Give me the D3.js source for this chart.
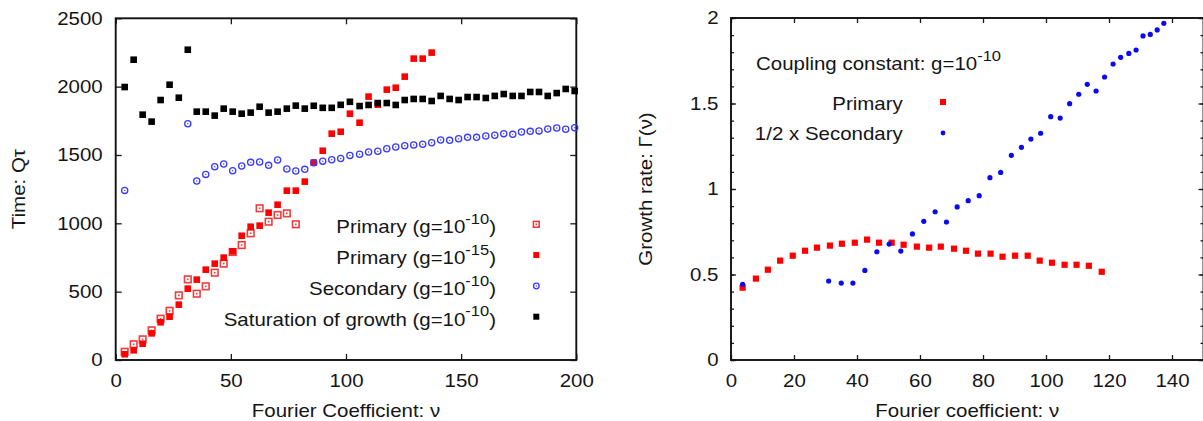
<!DOCTYPE html>
<html>
<head>
<meta charset="utf-8">
<script src="https://cdn.jsdelivr.net/npm/d3@7"></script>
<style>
  html, body { margin: 0; padding: 0; background: #fff; }
  svg { display: block; }
  text { font-family: "Liberation Sans", Arial, Helvetica, sans-serif; fill: #151515; }
</style>
</head>
<body>
<svg id="chart" width="1203" height="421"></svg>
<script>
// ---------- Left panel: time scales versus Fourier coefficient ν ----------
const nuLeft = [3.9, 7.8, 11.7, 15.6, 19.5, 23.4, 27.4, 31.3, 35.2, 39.1, 43.0, 46.9, 50.8,
  54.7, 58.6, 62.5, 66.4, 70.3, 74.3, 78.2, 82.1, 86.0, 89.9, 93.8, 97.7, 101.7, 105.9,
  109.8, 113.8, 117.7, 121.6, 125.5, 129.4, 133.3, 137.2, 141.1, 145.0, 148.9, 152.8,
  156.7, 160.7, 164.6, 168.5, 172.4, 176.2, 180.0, 183.8, 187.6, 191.5, 195.4, 199.3];

// Primary instability, g = 1e-10 (open squares)
const primaryG10 = [60, 115, 151, 217, 302, 360, 473, 590, 485, 539, 639, 705, 790,
  841, 927, 1110, 1012, 1061, 1073, 993];

// Primary instability, g = 1e-15 (filled squares)
const primaryG15 = [42, 71, 119, 195, 276, 317, 405, 522, 588, 661, 705, 749, 795,
  909, 975, 983, 1078, 1136, 1239, 1239, 1305, 1444, 1531, 1656, 1670, 1802, 1736,
  1927, 1868, 1978, 1992, 2073, 2205, 2205, 2249];

// Secondary instability, g = 1e-10 (open circles); null = no value
const secondaryG10 = [1241, null, null, null, null, null, null, 1729, 1310, 1358, 1414,
  1434, 1385, 1419, 1446, 1449, 1424, 1463, 1397, 1383, 1395, 1444, 1455, 1465, 1474,
  1497, 1505, 1522, 1527, 1546, 1558, 1568, 1573, 1578, 1590, 1610, 1607, 1619, 1629,
  1629, 1639, 1644, 1656, 1651, 1668, 1673, 1676, 1690, 1697, 1688, 1700];

// Saturation of growth, g = 1e-10 (black squares)
const saturationG10 = [1997, 2197, 1795, 1744, 1902, 2014, 1919, 2270, 1817, 1817, 1788,
  1839, 1817, 1802, 1810, 1853, 1810, 1817, 1839, 1861, 1839, 1860, 1845, 1845, 1867,
  1889, 1858, 1866, 1880, 1880, 1866, 1902, 1910, 1910, 1895, 1932, 1910, 1902, 1924,
  1924, 1917, 1932, 1946, 1932, 1932, 1961, 1961, 1932, 1953, 1983, 1968];

const leftXTicks = [0, 50, 100, 150, 200];
const leftYTicks = [0, 500, 1000, 1500, 2000, 2500];

// ---------- Right panel: growth rate Γ(ν) ----------
const nuRightPrimary = [3.7, 7.9, 11.7, 15.6, 19.6, 23.5, 27.3, 31.4, 35.2, 39.3, 43.2,
  47.0, 51.0, 54.8, 59.0, 62.9, 66.6, 70.8, 74.6, 78.4, 82.4, 86.2, 90.2, 94.2, 98.0,
  101.9, 105.9, 109.7, 113.6, 117.7];
const gammaPrimary = [0.423, 0.476, 0.528, 0.581, 0.610, 0.639, 0.657, 0.669, 0.680,
  0.686, 0.704, 0.686, 0.686, 0.674, 0.663, 0.657, 0.663, 0.651, 0.639, 0.622, 0.622,
  0.604, 0.610, 0.610, 0.581, 0.569, 0.557, 0.557, 0.551, 0.516];

const nuRightSecondary = [3.7, 31.0, 35.0, 38.7, 42.5, 46.3, 50.2, 53.9, 57.6, 61.2, 64.8,
  68.4, 71.8, 75.3, 78.8, 82.2, 85.6, 89.0, 92.2, 95.2, 98.3, 101.5, 104.5, 107.5, 110.4,
  113.1, 115.9, 118.6, 121.3, 123.7, 126.3, 128.6, 130.8, 133.1, 135.3, 137.4];
const gammaHalfSecondary = [0.443, 0.462, 0.450, 0.450, 0.524, 0.633, 0.678, 0.637, 0.737,
  0.811, 0.867, 0.807, 0.895, 0.932, 0.961, 1.066, 1.097, 1.197, 1.244, 1.292, 1.326,
  1.423, 1.415, 1.499, 1.554, 1.612, 1.573, 1.655, 1.731, 1.770, 1.793, 1.813, 1.895,
  1.904, 1.930, 1.969];

const rightXTicks = [0, 20, 40, 60, 80, 100, 120, 140];
const rightYTicks = [0, 0.5, 1, 1.5, 2];
const rightYMinorTicks = d3.range(0, 21).map(i => i / 10);

// ---------- drawing ----------
const svg = d3.select("#chart");
svg.append("rect").attr("width", 1203).attr("height", 421).attr("fill", "#fff");

const FS = 18.6;      // base font size
const SX = 1.1;       // horizontal stretch of the lettering
const SUP_FS = 15;    // exponent size
const SUP_DY = 9.5;   // exponent raise

// text with optional superscript pieces: segs = [[string, isSup], ...]
function addText(g, x, y, segs, anchor, rotate) {
  const t = g.append("text")
    .attr("transform", `translate(${x},${y})` + (rotate ? ` rotate(${rotate})` : "") + ` scale(${SX},1)`)
    .attr("text-anchor", anchor)
    .style("font-size", FS + "px");
  let raised = false;
  segs.forEach(([s, sup]) => {
    const ts = t.append("tspan").text(s);
    if (sup && !raised) { ts.attr("dy", -SUP_DY).style("font-size", SUP_FS + "px"); raised = true; }
    else if (sup) { ts.style("font-size", SUP_FS + "px"); }
    else if (!sup && raised) { ts.attr("dy", SUP_DY); raised = false; }
  });
  return t;
}

function styleAxis(g, showLabels) {
  g.select(".domain").remove();
  g.selectAll(".tick line").attr("stroke", "#1a1a1a").attr("stroke-width", 1.3);
  if (!showLabels) g.selectAll(".tick text").remove();
  else g.selectAll(".tick text").style("font-size", FS + "px").attr("fill", "#151515")
    .style("font-family", '"Liberation Sans", Arial, sans-serif');
}

function stretchLabels(g) {
  g.selectAll(".tick text").each(function () {
    const el = d3.select(this);
    const x = +el.attr("x") || 0;
    el.attr("x", x / SX).attr("transform", `scale(${SX},1)`);
  });
}

// ===== Left panel =====
const L = { left: 115.7, right: 576.3, top: 18.3, bottom: 360 };
const xL = d3.scaleLinear().domain([0, 200]).range([L.left, L.right]);
const yL = d3.scaleLinear().domain([0, 2500]).range([L.bottom, L.top]);
const gL = svg.append("g");

{
  const ax = gL.append("g").attr("transform", `translate(0,${L.bottom})`)
    .call(d3.axisBottom(xL).tickValues(leftXTicks).tickSize(-6).tickSizeOuter(0).tickPadding(13.5).tickFormat(d => d));
  styleAxis(ax, true); stretchLabels(ax);
  const at = gL.append("g").attr("transform", `translate(0,${L.top})`)
    .call(d3.axisTop(xL).tickValues(leftXTicks).tickSize(-6).tickSizeOuter(0));
  styleAxis(at, false);
  const ay = gL.append("g").attr("transform", `translate(${L.left},0)`)
    .call(d3.axisLeft(yL).tickValues(leftYTicks).tickSize(-6).tickSizeOuter(0).tickPadding(13).tickFormat(d => d));
  styleAxis(ay, true); stretchLabels(ay);
  const ar = gL.append("g").attr("transform", `translate(${L.right},0)`)
    .call(d3.axisRight(yL).tickValues(leftYTicks).tickSize(-6).tickSizeOuter(0));
  styleAxis(ar, false);
  gL.append("rect").attr("x", L.left).attr("y", L.top)
    .attr("width", L.right - L.left).attr("height", L.bottom - L.top)
    .attr("fill", "none").attr("stroke", "#111").attr("stroke-width", 1.9);
}

// marker helpers
function openSquare(g, cx, cy, s) {
  g.append("rect").attr("x", cx - s / 2).attr("y", cy - s / 2).attr("width", s).attr("height", s)
    .attr("fill", "#fff").attr("fill-opacity", 0.6).attr("stroke", "#f03c3c").attr("stroke-width", 1.6);
  g.append("rect").attr("x", cx - 0.8).attr("y", cy - 0.8).attr("width", 1.6).attr("height", 1.6).attr("fill", "#f03c3c");
}
function filledSquare(g, cx, cy, s, color) {
  g.append("rect").attr("x", cx - s / 2).attr("y", cy - s / 2).attr("width", s).attr("height", s).attr("fill", color);
}
function openCircle(g, cx, cy, r) {
  g.append("circle").attr("cx", cx).attr("cy", cy).attr("r", r)
    .attr("fill", "none").attr("stroke", "#3a3aff").attr("stroke-width", 1.3);
  g.append("circle").attr("cx", cx).attr("cy", cy).attr("r", 0.7).attr("fill", "#3a3aff");
}
function dot(g, cx, cy, r) {
  g.append("circle").attr("cx", cx).attr("cy", cy).attr("r", r).attr("fill", "#0a0af2");
}

const mL = gL.append("g");
primaryG10.forEach((v, i) => openSquare(mL, xL(nuLeft[i]), yL(v), 6.6));
primaryG15.forEach((v, i) => filledSquare(mL, xL(nuLeft[i]), yL(v), 6.6, "#ff0000"));
secondaryG10.forEach((v, i) => { if (v != null) openCircle(mL, xL(nuLeft[i]), yL(v), 3.1); });
saturationG10.forEach((v, i) => filledSquare(mL, xL(nuLeft[i]), yL(v), 6.6, "#000"));

// left legend
{
  const rows = [
    { y: 224.3, label: "Primary (g=10", exp: "-10", mark: (g, x, y) => openSquare(g, x, y, 5.8) },
    { y: 255.0, label: "Primary (g=10", exp: "-15", mark: (g, x, y) => filledSquare(g, x, y, 6, "#ff0000") },
    { y: 286.0, label: "Secondary (g=10", exp: "-10", mark: (g, x, y) => openCircle(g, x, y, 2.8) },
    { y: 316.7, label: "Saturation of growth (g=10", exp: "-10", mark: (g, x, y) => filledSquare(g, x, y, 6, "#000") }
  ];
  const lg = gL.append("g");
  rows.forEach(r => {
    addText(lg, 496, r.y + 9, [[r.label, false], [r.exp, true], [")", false]], "end");
    r.mark(lg, 536.3, r.y);
  });
}

// axis titles
addText(gL, (L.left + L.right) / 2, 416.5, [["Fourier Coefficient: ν", false]], "middle");
addText(gL, 25, (L.top + L.bottom) / 2, [["Time: Qτ", false]], "middle", -90);

// ===== Right panel =====
const R = { left: 731, right: 1203.5, top: 18, bottom: 360 };
const xR = d3.scaleLinear().domain([0, 150]).range([R.left, R.right]);
const yR = d3.scaleLinear().domain([0, 2]).range([R.bottom, R.top]);
const gR = svg.append("g");

{
  const ax = gR.append("g").attr("transform", `translate(0,${R.bottom})`)
    .call(d3.axisBottom(xR).tickValues(rightXTicks).tickSize(-5).tickSizeOuter(0).tickPadding(13.5).tickFormat(d => d));
  styleAxis(ax, true); stretchLabels(ax);
  const at = gR.append("g").attr("transform", `translate(0,${R.top})`)
    .call(d3.axisTop(xR).tickValues(rightXTicks).tickSize(-5).tickSizeOuter(0));
  styleAxis(at, false);
  const ayMinor = gR.append("g").attr("transform", `translate(${R.left},0)`)
    .call(d3.axisLeft(yR).tickValues(rightYMinorTicks).tickSize(-3).tickSizeOuter(0));
  styleAxis(ayMinor, false);
  const ay = gR.append("g").attr("transform", `translate(${R.left},0)`)
    .call(d3.axisLeft(yR).tickValues(rightYTicks).tickSize(-5).tickSizeOuter(0).tickPadding(12.5).tickFormat(d => String(d)));
  styleAxis(ay, true); stretchLabels(ay);
  const arMinor = gR.append("g").attr("transform", `translate(${R.right},0)`)
    .call(d3.axisRight(yR).tickValues(rightYMinorTicks).tickSize(-3).tickSizeOuter(0));
  styleAxis(arMinor, false);
  const ar = gR.append("g").attr("transform", `translate(${R.right},0)`)
    .call(d3.axisRight(yR).tickValues(rightYTicks).tickSize(-5).tickSizeOuter(0));
  styleAxis(ar, false);
  gR.append("rect").attr("x", R.left).attr("y", R.top)
    .attr("width", R.right - R.left).attr("height", R.bottom - R.top)
    .attr("fill", "none").attr("stroke", "#111").attr("stroke-width", 1.9);
}

const mR = gR.append("g");
gammaPrimary.forEach((v, i) => filledSquare(mR, xR(nuRightPrimary[i]), yR(v), 6.2, "#ff0000"));
gammaHalfSecondary.forEach((v, i) => dot(mR, xR(nuRightSecondary[i]), yR(v), 2.6));

// right legend
{
  const lg = gR.append("g");
  addText(lg, 756, 70, [["Coupling constant: g=10", false], ["-10", true]], "start");
  addText(lg, 902.7, 110, [["Primary", false]], "end");
  addText(lg, 902.7, 140, [["1/2 x Secondary", false]], "end");
  filledSquare(lg, 943, 102, 6, "#ff0000");
  dot(lg, 943, 133, 2.4);
}

addText(gR, (R.left + R.right) / 2, 416.5, [["Fourier coefficient: ν", false]], "middle");
addText(gR, 652, (R.top + R.bottom) / 2, [["Growth rate: Γ(ν)", false]], "middle", -90);
</script>
</body>
</html>
